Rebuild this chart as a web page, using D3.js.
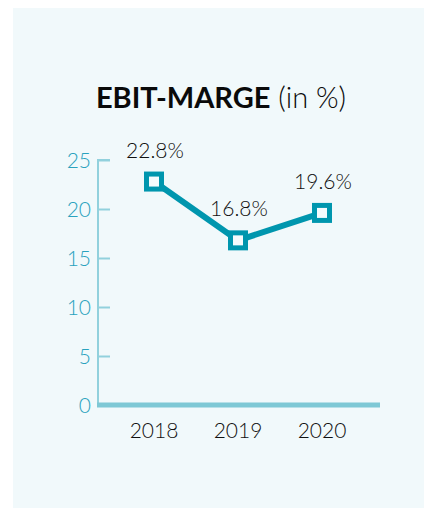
<!DOCTYPE html>
<html>
<head>
<meta charset="utf-8">
<script src="https://cdn.jsdelivr.net/npm/d3@7"></script>
<style>
  body { margin: 0; background: #fff; }
  svg text { font-family: Lato, "Open Sans", sans-serif; }
</style>
</head>
<body>
<script>
// dati del grafico
var years = ["2018", "2019", "2020"];
var ebitMarge = [22.8, 16.8, 19.6];
var yTicks = [0, 5, 10, 15, 20, 25];

var w = 424;
var h = 508;

var svg = d3.select("body")
            .append("svg")
            .attr("width", w)
            .attr("height", h);

// pannello di sfondo
svg.append("rect")
   .attr("x", 13)
   .attr("y", 8)
   .attr("width", w - 13)
   .attr("height", h - 8)
   .attr("fill", "#f1f9fb");

// titolo
var title = svg.append("text")
   .attr("x", 221)
   .attr("y", 108)
   .attr("text-anchor", "middle")
   .attr("font-size", 29)
   .attr("fill", "#0a0a0a");
title.append("tspan").attr("font-weight", 700).text("EBIT-MARGE");
title.append("tspan").attr("font-weight", 300).text(" (in %)");

// scale
var x = d3.scalePoint().domain(years).range([154, 322]);
var y = d3.scaleLinear().domain([0, 25]).range([405, 160]);

// asse y
var yAxis = svg.append("g")
   .attr("transform", "translate(98,0)")
   .call(d3.axisRight(y).tickValues(yTicks).tickSize(12).tickFormat(""));
yAxis.select(".domain").attr("stroke", "#92d1dd").attr("stroke-width", 2).attr("d", "M0,405V160H12");
yAxis.selectAll(".tick line").attr("stroke", "#92d1dd").attr("stroke-width", 2);

svg.selectAll(".ylab")
   .data(yTicks)
   .enter()
   .append("text")
   .attr("class", "ylab")
   .attr("x", 91)
   .attr("y", d => y(d) + 7.5)
   .attr("text-anchor", "end")
   .attr("font-size", 21)
   .attr("font-weight", 300)
   .attr("fill", "#2aa2be")
   .text(d => d);

// linea di base
svg.append("line")
   .attr("x1", 97)
   .attr("x2", 380)
   .attr("y1", y(0))
   .attr("y2", y(0))
   .attr("stroke", "#7ec8d5")
   .attr("stroke-width", 5);

// etichette anni
svg.selectAll(".xlab")
   .data(years)
   .enter()
   .append("text")
   .attr("class", "xlab")
   .attr("x", d => x(d))
   .attr("y", 438)
   .attr("text-anchor", "middle")
   .attr("font-size", 21)
   .attr("font-weight", 300)
   .attr("fill", "#111")
   .text(d => d);

// linea
var line = d3.line()
   .x((d, i) => x(years[i]))
   .y(d => y(d));

svg.append("path")
   .datum(ebitMarge)
   .attr("d", line)
   .attr("fill", "none")
   .attr("stroke", "#0096ae")
   .attr("stroke-width", 6);

// marcatori
svg.selectAll(".mark")
   .data(ebitMarge)
   .enter()
   .append("rect")
   .attr("class", "mark")
   .attr("x", (d, i) => x(years[i]) - 7.5)
   .attr("y", d => y(d) - 7.5)
   .attr("width", 15)
   .attr("height", 15)
   .attr("fill", "#f5fbfd")
   .attr("stroke", "#0096ae")
   .attr("stroke-width", 5);

// etichette valori
svg.selectAll(".vlab")
   .data(ebitMarge)
   .enter()
   .append("text")
   .attr("class", "vlab")
   .attr("x", (d, i) => x(years[i]) + 1)
   .attr("y", d => y(d) - 24)
   .attr("text-anchor", "middle")
   .attr("font-size", 21)
   .attr("font-weight", 300)
   .attr("fill", "#111")
   .text(d => d.toFixed(1) + "%");
</script>
</body>
</html>
